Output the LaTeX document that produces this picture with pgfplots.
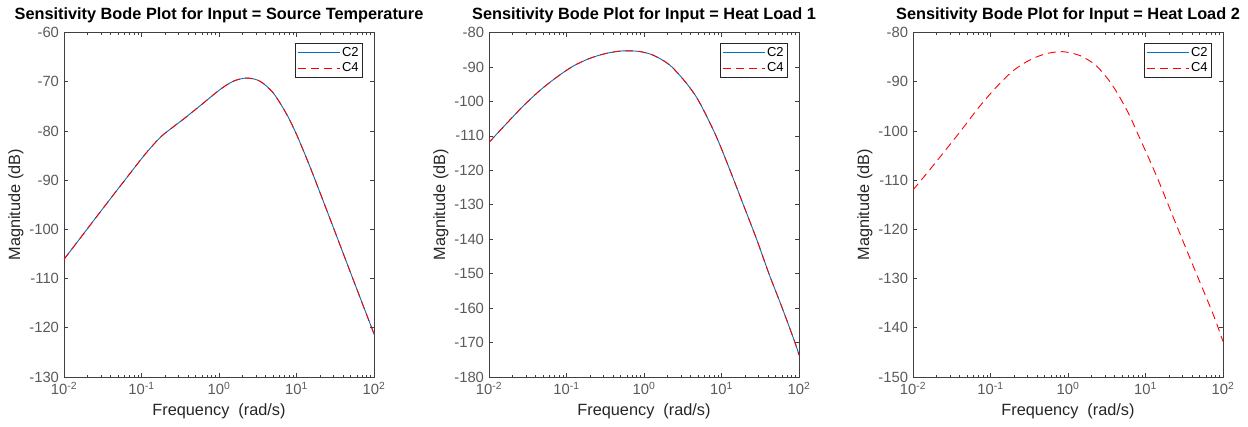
\documentclass[border=0pt]{standalone}
\usepackage{fontspec}
\setmainfont{Liberation Sans}
\usepackage{pgfplots}
\usepackage{pgfplotstable}
\pgfplotsset{compat=1.18}
\definecolor{mblue}{RGB}{0,114,189}
\definecolor{axgray}{RGB}{64,64,64}
\definecolor{tickgray}{RGB}{90,90,90}

% magnitude readings (dB) vs frequency (rad/s)
\pgfplotstableread{
f c2 c4
0.01 -106.1 -106.1
0.01849 -100.6 -100.6
0.03162 -95.8 -95.8
0.06026 -90.1 -90.1
0.1132 -84.6 -84.6
0.1778 -81.2 -81.2
0.2512 -79.3 -79.3
0.3548 -77.5 -77.5
0.5689 -74.9 -74.9
1.030 -71.6 -71.6
1.531 -69.9 -69.9
2.275 -69.25 -69.25
3.381 -69.9 -69.9
5.023 -72.3 -72.3
7.464 -76.6 -76.6
10.00 -80.7 -80.7
13.52 -85.6 -85.6
17.34 -89.9 -89.9
29.85 -99.6 -99.6
51.52 -109.4 -109.4
93.33 -120.0 -120.0
100 -121.2 -121.2
}\tabA

\pgfplotstableread{
f c2 c4
0.01 -111.9 -111.9
0.01641 -106.7 -106.7
0.02692 -101.6 -101.6
0.04416 -97.05 -97.05
0.07244 -93.2 -93.2
0.1189 -89.9 -89.9
0.1950 -87.6 -87.6
0.3199 -86.1 -86.1
0.5248 -85.35 -85.35
0.8610 -85.5 -85.5
1.318 -86.6 -86.6
2.163 -89.5 -89.5
3.548 -94.8 -94.8
5.117 -100.0 -100.0
8.492 -110.0 -110.0
12.88 -120.0 -120.0
19.14 -130.0 -130.0
28.38 -140.0 -140.0
40.93 -150.0 -150.0
60.81 -160.0 -160.0
88.72 -170.0 -170.0
100 -173.6 -173.6
}\tabB

\pgfplotstableread{
f c4
0.01 -112.0
0.01641 -107.9
0.02692 -103.7
0.04416 -99.4
0.07244 -95.0
0.1189 -91.1
0.1950 -87.8
0.3199 -85.6
0.5248 -84.3
0.8610 -83.9
1.429 -84.7
2.259 -86.6
3.289 -89.5
4.285 -92.2
6.067 -96.5
8.166 -101.0
10.99 -105.5
14.79 -110.2
25.47 -119.4
43.95 -128.5
75.68 -137.5
100 -142.8
}\tabC

\tikzset{
  c2line/.style={mblue, line width=0.9bp, smooth},
  c4line/.style={red, line width=0.9bp, dash pattern=on 8bp off 5bp, smooth},
}

\pgfplotsset{
  legend image code/.code={\draw[#1] (0bp,0bp) -- (42bp,0bp);},
  every axis/.append style={
    scale only axis, width=310bp, height=344.5bp,
    xmode=log, xmin=0.01, xmax=100,
    xtick={0.01,0.1,1,10,100},
    xticklabels={10\textsuperscript{-2},10\textsuperscript{-1},10\textsuperscript{0},10\textsuperscript{1},10\textsuperscript{2}},
    axis line style={axgray, line width=0.6bp},
    every tick/.style={axgray, line width=0.6bp},
    tick align=inside,
    major tick length=4.5bp, minor tick length=2.5bp,
    /pgf/number format/assume math mode=true,
    tick label style={font=\fontsize{14.8bp}{17bp}\selectfont, text=tickgray},
    xticklabel style={yshift=-1.5bp},
    yticklabel style={xshift=-1.5bp},
    label style={font=\fontsize{16.3bp}{19bp}\selectfont, text=black!85},
    every axis title shift=0pt,
    title style={font=\bfseries\fontsize{16.3bp}{19bp}\selectfont, at={(axis description cs:0.5,1.0377)}, anchor=base},
    xlabel style={at={(axis description cs:0.5,-0.1103)}, anchor=base},
    ylabel style={at={(axis description cs:-0.155,0.5)}, anchor=center},
    xlabel={Frequency~~(rad/s)}, ylabel={Magnitude (dB)},
    legend style={at={(1,1)}, anchor=north east, xshift=-11bp, yshift=-10.5bp,
      draw=black!85, line width=0.6bp, font=\fontsize{13bp}{15bp}\selectfont,
      inner sep=2bp, row sep=1bp},
    legend cell align=left,
  },
}

\begin{document}
\begin{tikzpicture}
\path[use as bounding box] (0,0) rectangle (1248bp,427bp);

\begin{axis}[at={(64bp,50bp)}, anchor=south west,
  ymin=-130, ymax=-60, ytick={-130,-120,...,-60},
  title={Sensitivity Bode Plot for Input = Source Temperature}]
\addplot[c2line] table[x=f, y=c2] {\tabA};
\addplot[c4line] table[x=f, y=c4] {\tabA};
\legend{C2, C4}
\end{axis}

\begin{axis}[at={(489bp,50bp)}, anchor=south west,
  ymin=-180, ymax=-80, ytick={-180,-170,...,-80},
  title={Sensitivity Bode Plot for Input = Heat Load 1}]
\addplot[c2line] table[x=f, y=c2] {\tabB};
\addplot[c4line] table[x=f, y=c4] {\tabB};
\legend{C2, C4}
\end{axis}

\begin{axis}[at={(913bp,50bp)}, anchor=south west,
  ymin=-150, ymax=-80, ytick={-150,-140,...,-80},
  title={Sensitivity Bode Plot for Input = Heat Load 2}]
\addlegendimage{c2line}
\addplot[c4line] table[x=f, y=c4] {\tabC};
\legend{C2, C4}
\end{axis}
\end{tikzpicture}
\end{document}
